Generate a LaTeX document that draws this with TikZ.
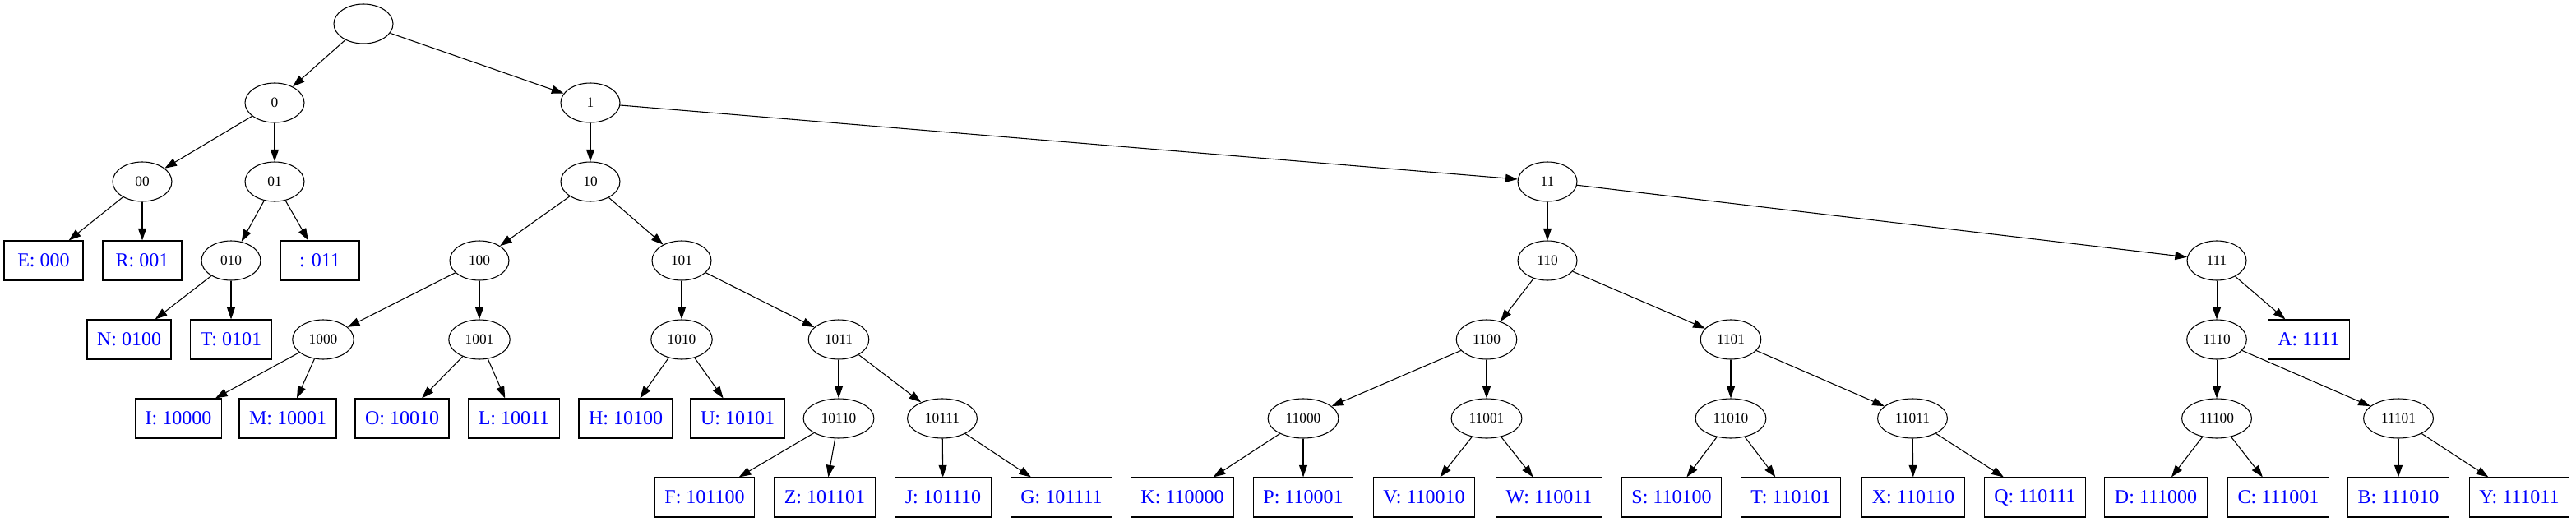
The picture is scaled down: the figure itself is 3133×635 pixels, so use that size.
\documentclass[tikz,border=0pt]{standalone}
\usepackage{fontspec}
\setmainfont{Liberation Serif}
\usetikzlibrary{shapes.geometric,arrows.meta}
\definecolor{leafblue}{RGB}{0,0,255}

\tikzset{
  code/.style={ellipse,draw,line width=0.8pt,inner xsep=6.75pt,minimum width=54pt,minimum height=36pt,font=\fontsize{13}{15}\selectfont},
  leaf/.style={rectangle,draw,line width=0.8pt,inner xsep=9pt,minimum width=72pt,minimum height=36pt,text=leafblue,font=\fontsize{18}{20}\selectfont},
  edge/.style={line width=0.8pt,-{Triangle[length=11pt,width=7.5pt]}}
}

\begin{document}
\begin{tikzpicture}[x=0.75pt,y=-0.75pt]
  \useasboundingbox (0,0) rectangle (3133,635);

  % inner codes
  \node[code] (root) at (442,29) {};
  \node[code] (n0) at (334,125) {0};
  \node[code] (n1) at (718,125) {1};
  \node[code] (n00) at (173,221) {00};
  \node[code] (n01) at (334,221) {01};
  \node[code] (n10) at (718,221) {10};
  \node[code] (n11) at (1882,221) {11};
  \node[code] (n010) at (281,317) {010};
  \node[code] (n100) at (583,317) {100};
  \node[code] (n101) at (829,317) {101};
  \node[code] (n110) at (1882,317) {110};
  \node[code] (n111) at (2696,317) {111};
  \node[code] (n1000) at (393,413) {1000};
  \node[code] (n1001) at (583,413) {1001};
  \node[code] (n1010) at (829,413) {1010};
  \node[code] (n1011) at (1020,413) {1011};
  \node[code] (n1100) at (1808,413) {1100};
  \node[code] (n1101) at (2105,413) {1101};
  \node[code] (n1110) at (2696,413) {1110};
  \node[code] (n10110) at (1020,509) {10110};
  \node[code] (n10111) at (1146,509) {10111};
  \node[code] (n11000) at (1585,509) {11000};
  \node[code] (n11001) at (1808,509) {11001};
  \node[code] (n11010) at (2105,509) {11010};
  \node[code] (n11011) at (2326,509) {11011};
  \node[code] (n11100) at (2696,509) {11100};
  \node[code] (n11101) at (2917,509) {11101};

  % letters
  \node[leaf] (E) at (53,317) {E: 000};
  \node[leaf] (R) at (173,317) {R: 001};
  \node[leaf] (sp) at (389,317) {: 011};
  \node[leaf] (N) at (157,413) {N: 0100};
  \node[leaf] (T1) at (281,413) {T: 0101};
  \node[leaf] (A) at (2808,413) {A: 1111};
  \node[leaf] (I) at (217,509) {I: 10000};
  \node[leaf] (M) at (350,509) {M: 10001};
  \node[leaf] (O) at (489,509) {O: 10010};
  \node[leaf] (L) at (625,509) {L: 10011};
  \node[leaf] (H) at (761,509) {H: 10100};
  \node[leaf] (U) at (897,509) {U: 10101};
  \node[leaf] (F) at (857,605) {F: 101100};
  \node[leaf] (Z) at (1003,605) {Z: 101101};
  \node[leaf] (J) at (1147,605) {J: 101110};
  \node[leaf] (G) at (1291,605) {G: 101111};
  \node[leaf] (K) at (1438,605) {K: 110000};
  \node[leaf] (P) at (1585,605) {P: 110001};
  \node[leaf] (V) at (1732,605) {V: 110010};
  \node[leaf] (W) at (1884,605) {W: 110011};
  \node[leaf] (S) at (2033,605) {S: 110100};
  \node[leaf] (T2) at (2178,605) {T: 110101};
  \node[leaf] (X) at (2327,605) {X: 110110};
  \node[leaf] (Q) at (2475,605) {Q: 110111};
  \node[leaf] (D) at (2622,605) {D: 111000};
  \node[leaf] (C) at (2771,605) {C: 111001};
  \node[leaf] (B) at (2917,605) {B: 111010};
  \node[leaf] (Y) at (3064,605) {Y: 111011};

  % branches
  \draw[edge] (root) -- (n0);
  \draw[edge] (root) -- (n1);
  \draw[edge] (n0) -- (n00);
  \draw[edge] (n0) -- (n01);
  \draw[edge] (n00) -- (E);
  \draw[edge] (n00) -- (R);
  \draw[edge] (n01) -- (n010);
  \draw[edge] (n01) -- (sp);
  \draw[edge] (n010) -- (N);
  \draw[edge] (n010) -- (T1);
  \draw[edge] (n1) -- (n10);
  \draw[edge] (n1) -- (n11);
  \draw[edge] (n10) -- (n100);
  \draw[edge] (n10) -- (n101);
  \draw[edge] (n100) -- (n1000);
  \draw[edge] (n100) -- (n1001);
  \draw[edge] (n1000) -- (I);
  \draw[edge] (n1000) -- (M);
  \draw[edge] (n1001) -- (O);
  \draw[edge] (n1001) -- (L);
  \draw[edge] (n101) -- (n1010);
  \draw[edge] (n101) -- (n1011);
  \draw[edge] (n1010) -- (H);
  \draw[edge] (n1010) -- (U);
  \draw[edge] (n1011) -- (n10110);
  \draw[edge] (n1011) -- (n10111);
  \draw[edge] (n10110) -- (F);
  \draw[edge] (n10110) -- (Z);
  \draw[edge] (n10111) -- (J);
  \draw[edge] (n10111) -- (G);
  \draw[edge] (n11) -- (n110);
  \draw[edge] (n11) -- (n111);
  \draw[edge] (n110) -- (n1100);
  \draw[edge] (n110) -- (n1101);
  \draw[edge] (n1100) -- (n11000);
  \draw[edge] (n1100) -- (n11001);
  \draw[edge] (n11000) -- (K);
  \draw[edge] (n11000) -- (P);
  \draw[edge] (n11001) -- (V);
  \draw[edge] (n11001) -- (W);
  \draw[edge] (n1101) -- (n11010);
  \draw[edge] (n1101) -- (n11011);
  \draw[edge] (n11010) -- (S);
  \draw[edge] (n11010) -- (T2);
  \draw[edge] (n11011) -- (X);
  \draw[edge] (n11011) -- (Q);
  \draw[edge] (n111) -- (n1110);
  \draw[edge] (n111) -- (A);
  \draw[edge] (n1110) -- (n11100);
  \draw[edge] (n1110) -- (n11101);
  \draw[edge] (n11100) -- (D);
  \draw[edge] (n11100) -- (C);
  \draw[edge] (n11101) -- (B);
  \draw[edge] (n11101) -- (Y);
\end{tikzpicture}
\end{document}
